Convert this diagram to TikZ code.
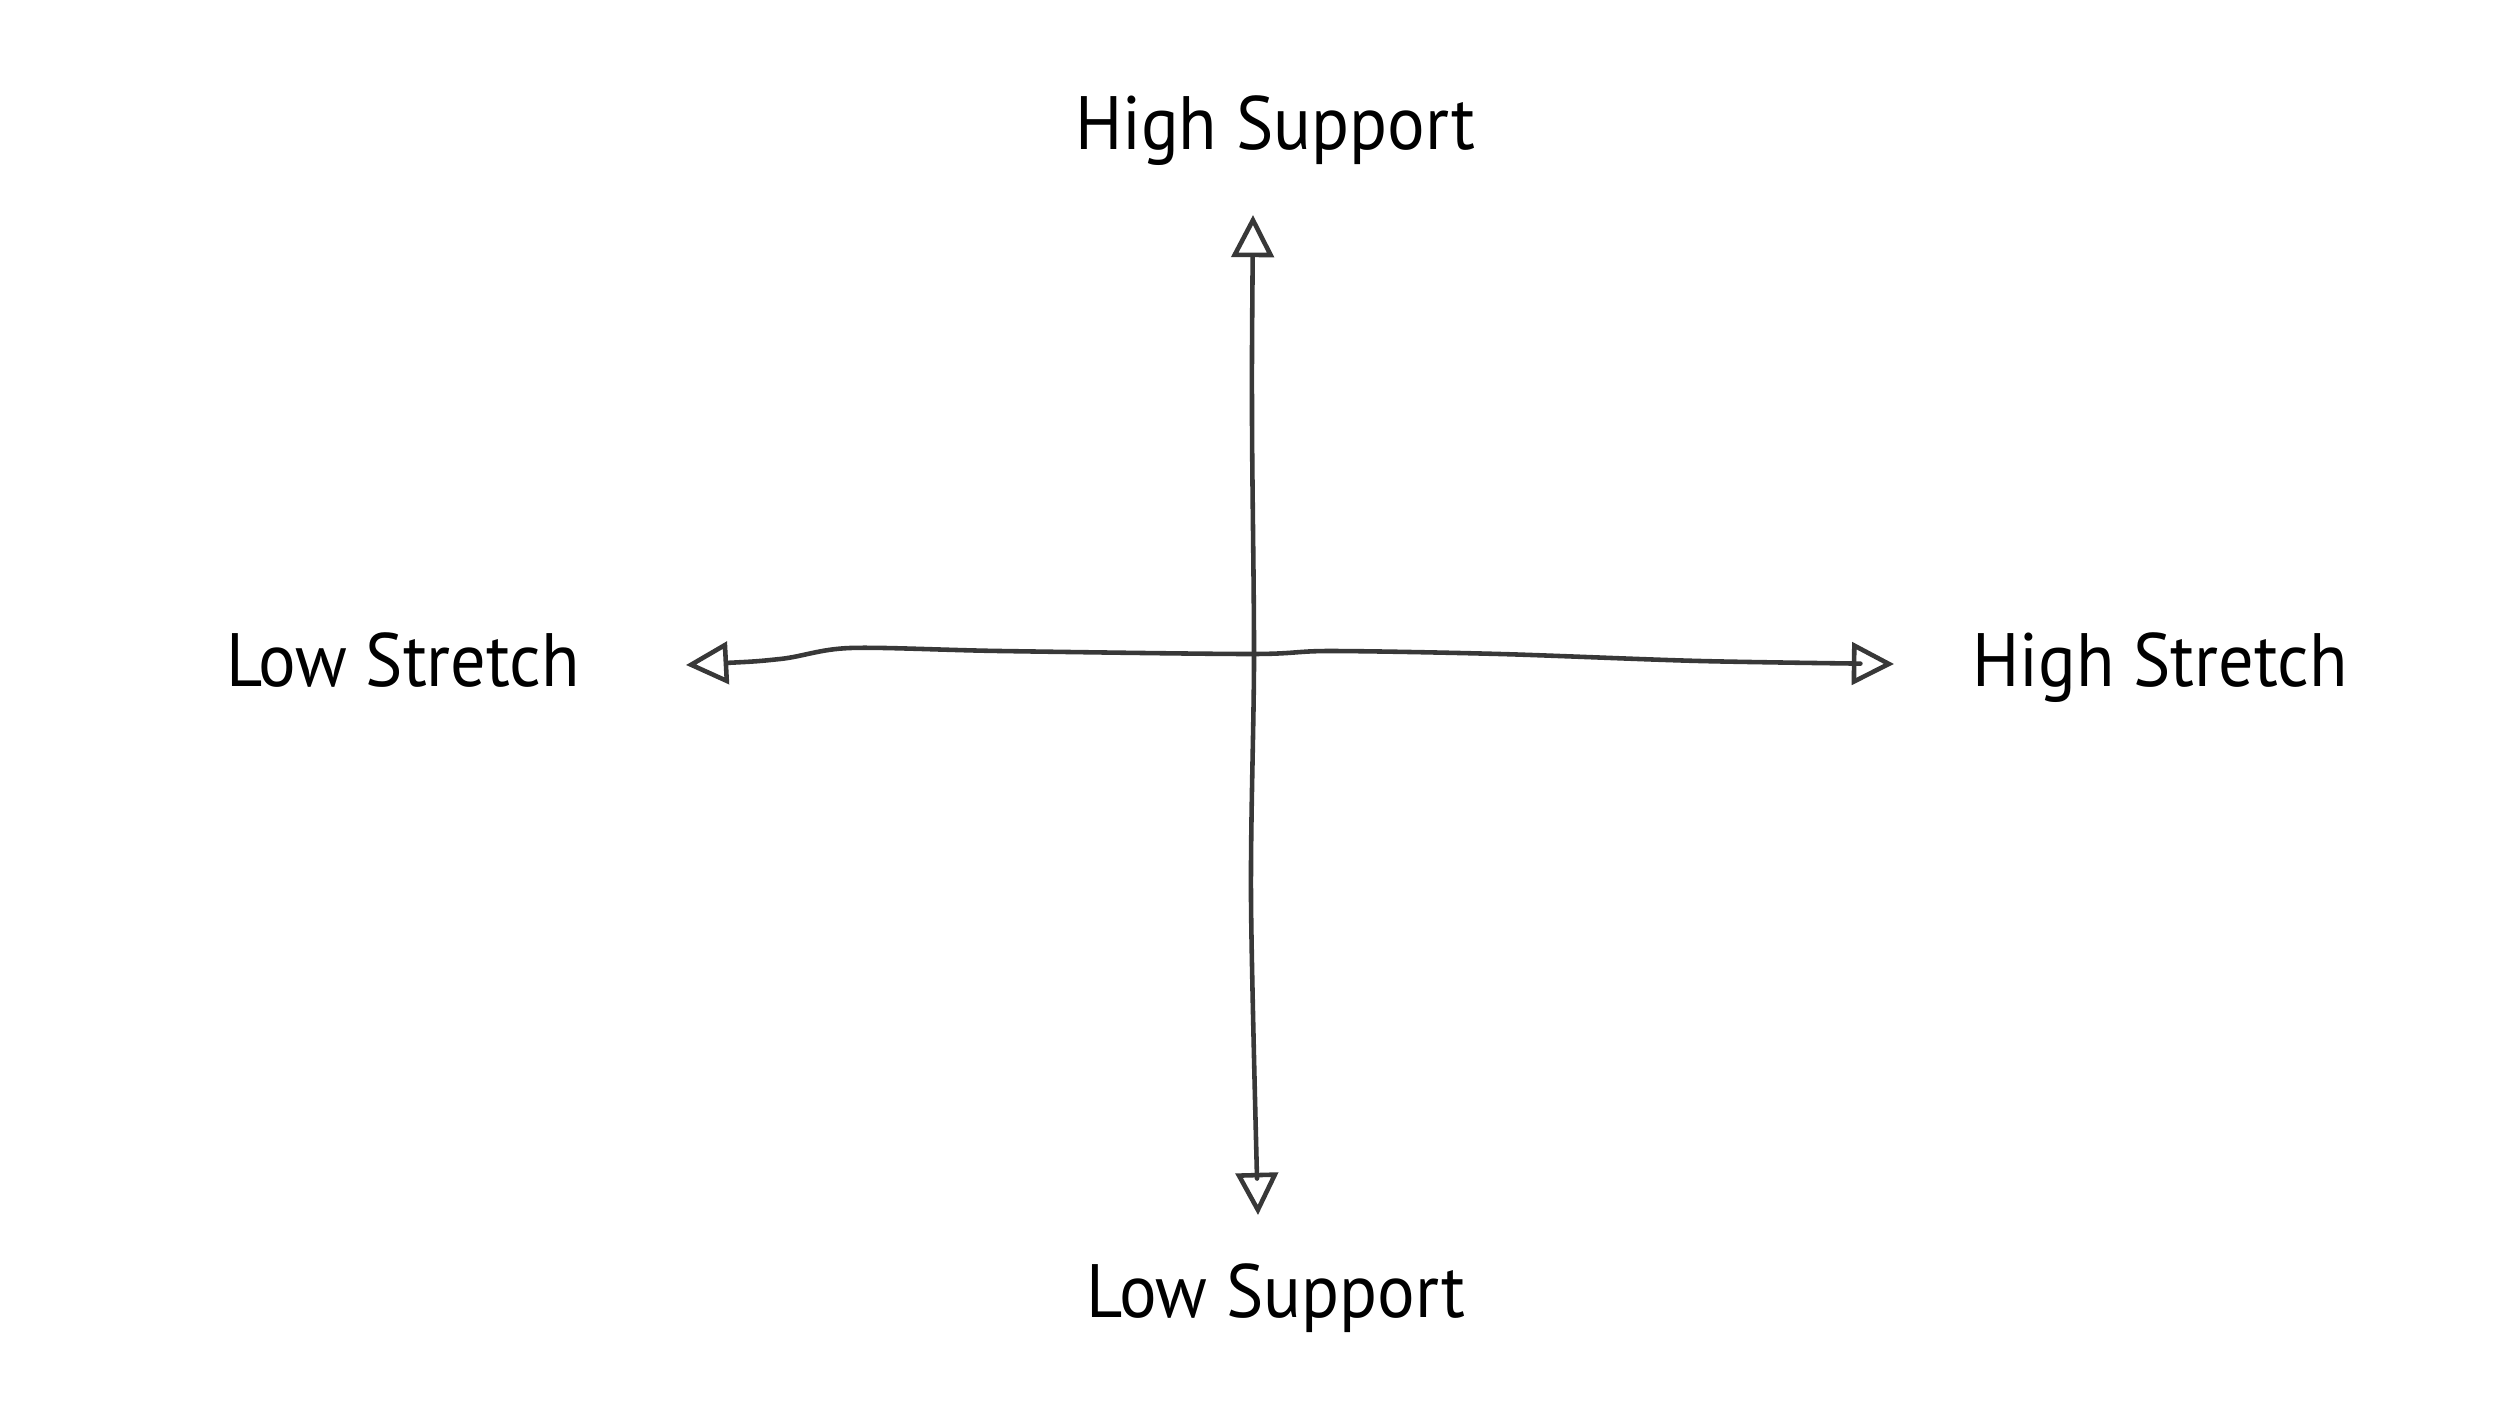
\documentclass[tikz,border=0pt]{standalone}
\usepackage{fontspec}
\setmainfont{PT Sans}[FakeStretch=0.93]
\usetikzlibrary{positioning,arrows.meta}
\definecolor{pencil}{HTML}{383838}
\tikzset{
  axislabel/.style={font=\fontsize{21.5}{26}\selectfont, inner sep=0pt, text depth=0pt},
  axisline/.style={draw=pencil, line width=1.3pt, line cap=round, line join=round},
  axisarr/.style={axisline, {Triangle[open,length=12pt,width=12pt,line width=1.3pt]}-{Triangle[open,length=12pt,width=12pt,line width=1.3pt]}},
}
\begin{document}
\begin{tikzpicture}[x=0.01cm, y=-0.01cm]
  \useasboundingbox (0,0) rectangle (2500,1406);
  % Labels
  \node[axislabel] at (1275,123)  (hiSup) {High Support};
  \node[axislabel] at (1276,1291) (loSup) {Low Support};
  \node[axislabel] at (403,660)   (loStr) {Low Stretch};
  \node[axislabel] at (2160,660)  (hiStr) {High Stretch};
  % Axis end points
  \coordinate (top)   at (1253,215);
  \coordinate (bot)   at (1258,1215);
  \coordinate (west)  at (686,665);
  \coordinate (east)  at (1894,664);
  % Vertical axis (support)
  \draw[axisarr] plot[smooth] coordinates {(top) (1252,420) (1254,660) (1251,900) (bot)};
  % Horizontal axis (stretch)
  \draw[axisarr] plot[smooth] coordinates {(west) (780,659) (850,648) (1000,651)
    (1250,654) (1330,651) (1500,654) (1700,661) (east)};
\end{tikzpicture}
\end{document}
